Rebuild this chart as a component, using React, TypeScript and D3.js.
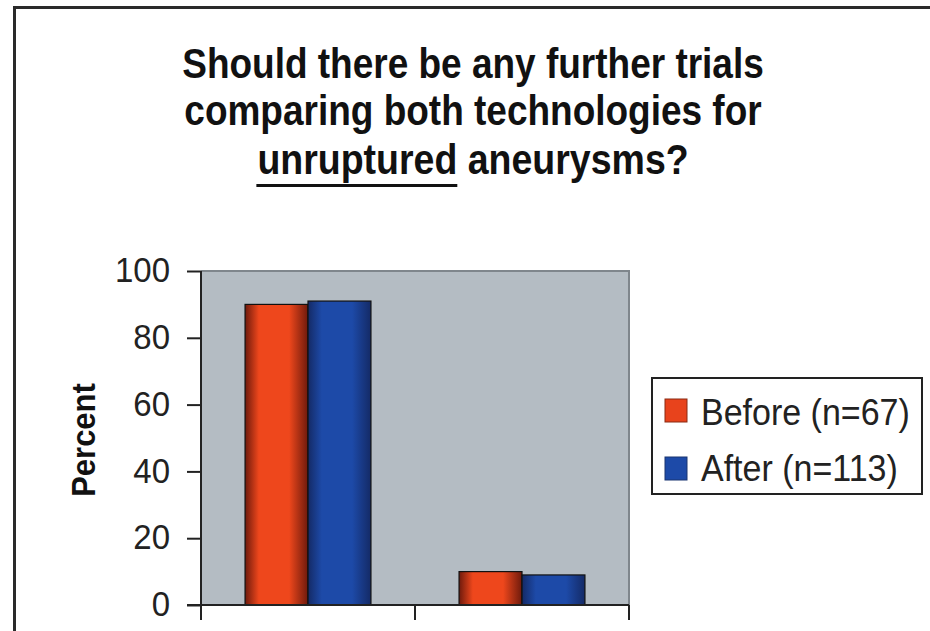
import React, { useEffect, useRef } from "react";
import * as d3 from "d3";

const categories = ["Yes", "No"];
const seriesNames = ["Before (n=67)", "After (n=113)"];
const beforeValues = [90, 10];
const afterValues = [91, 9];
const yTicks = [0, 20, 40, 60, 80, 100];
const titleLines = ["Should there be any further trials", "comparing both technologies for"];
const titleLine3Underlined = "unruptured";
const titleLine3Rest = " aneurysms?";
const yLabel = "Percent";

const W = 930;
const H = 631;

export default function App() {
  const ref = useRef<SVGSVGElement>(null);

  useEffect(() => {
    const svg = d3.select(ref.current);
    svg.selectAll("*").remove();

    const left = 201, right = 629, top = 271, bottom = 605;
    const x0 = d3.scaleBand<string>().domain(categories).range([left, right]).padding(0);
    const x1 = d3.scaleBand<string>().domain(["before", "after"]).range([0, x0.bandwidth()]).paddingInner(0).paddingOuter(0.7);
    const y = d3.scaleLinear().domain([0, 100]).range([bottom, top]);

    const defs = svg.append("defs");
    const mkGrad = (id: string, edge: string, mid: string) => {
      const g = defs.append("linearGradient").attr("id", id).attr("x1", "0").attr("x2", "1").attr("y1", "0").attr("y2", "0");
      g.append("stop").attr("offset", "0%").attr("stop-color", edge);
      g.append("stop").attr("offset", "22%").attr("stop-color", mid);
      g.append("stop").attr("offset", "70%").attr("stop-color", mid);
      g.append("stop").attr("offset", "100%").attr("stop-color", edge);
    };
    mkGrad("gRed", "#6e1a0c", "#ee471c");
    mkGrad("gBlue", "#142a66", "#1d4aa8");

    // outer frame
    svg.append("line").attr("x1", 14.5).attr("x2", 14.5).attr("y1", 6).attr("y2", H).attr("stroke", "#2a2a2a").attr("stroke-width", 3);
    svg.append("line").attr("x1", 13).attr("x2", W).attr("y1", 7.5).attr("y2", 7.5).attr("stroke", "#2a2a2a").attr("stroke-width", 3);

    // title
    const font = "Liberation Sans, Arial, Helvetica, sans-serif";
    const tcx = 473;
    const vs = 1.14;
    titleLines.forEach((t, i) => {
      svg.append("text").attr("transform", `translate(${tcx},${78 + i * 47}) scale(1,${vs})`).attr("text-anchor", "middle")
        .attr("font-family", font).attr("font-weight", "bold").attr("font-size", 37).attr("fill", "#111").text(t);
    });
    const t3 = svg.append("text").attr("transform", `translate(${tcx},174) scale(1,${vs})`).attr("text-anchor", "middle")
      .attr("font-family", font).attr("font-weight", "bold").attr("font-size", 37.5).attr("fill", "#111");
    const u = t3.append("tspan").text(titleLine3Underlined);
    t3.append("tspan").text(titleLine3Rest);
    const textNode = t3.node() as SVGTextElement;
    const total = textNode.getComputedTextLength();
    const uLen = (u.node() as SVGTSpanElement).getComputedTextLength();
    const startX = tcx - total / 2;
    svg.append("line").attr("x1", startX - 1).attr("x2", startX + uLen).attr("y1", 185.5).attr("y2", 185.5)
      .attr("stroke", "#111").attr("stroke-width", 3);

    // plot background
    svg.append("rect").attr("x", left).attr("y", top).attr("width", right - left).attr("height", bottom - top).attr("fill", "#b4bcc3");
    svg.append("path").attr("d", `M${left},${top}H${right}V${bottom}`).attr("fill", "none").attr("stroke", "#7f868c").attr("stroke-width", 2);

    // bars
    const groups = svg.append("g").selectAll("g").data(categories).join("g")
      .attr("transform", (d) => `translate(${x0(d)},0)`);
    groups.each(function (_c, i) {
      const g = d3.select(this);
      const data = [
        { key: "before", v: beforeValues[i], fill: "url(#gRed)" },
        { key: "after", v: afterValues[i], fill: "url(#gBlue)" },
      ];
      g.selectAll("rect").data(data).join("rect")
        .attr("x", (d) => x1(d.key)!)
        .attr("y", (d) => y(d.v))
        .attr("width", x1.bandwidth())
        .attr("height", (d) => y(0) - y(d.v))
        .attr("fill", (d) => d.fill)
        .attr("stroke", "#111")
        .attr("stroke-width", 1.2);
    });

    // y axis
    const yAxis = svg.append("g").attr("transform", `translate(${left},0)`)
      .call(d3.axisLeft(y).tickValues(yTicks).tickSize(14).tickPadding(17).tickFormat(d3.format("d")));
    yAxis.select(".domain").remove();
    yAxis.selectAll(".tick line").attr("stroke", "#222").attr("stroke-width", 2);
    yAxis.selectAll(".tick text").attr("font-family", font).attr("font-size", 33).attr("fill", "#222")
      .attr("transform", "scale(1,1.08)").attr("dy", "0.3em");
    svg.append("line").attr("x1", left).attr("x2", left).attr("y1", top).attr("y2", bottom + 15).attr("stroke", "#222").attr("stroke-width", 2);

    // x axis
    svg.append("line").attr("x1", left - 14).attr("x2", right).attr("y1", bottom).attr("y2", bottom).attr("stroke", "#222").attr("stroke-width", 2);
    const bounds = [...categories.map((c) => x0(c)!), right];
    svg.append("g").selectAll("line").data(bounds).join("line")
      .attr("x1", (d) => d).attr("x2", (d) => d).attr("y1", bottom).attr("y2", bottom + 15)
      .attr("stroke", "#222").attr("stroke-width", 2);

    // y label
    svg.append("text").attr("transform", `translate(83,440) rotate(-90) scale(1,1.1)`).attr("text-anchor", "middle").attr("dy", "0.35em")
      .attr("font-family", font).attr("font-weight", "bold").attr("font-size", 31).attr("fill", "#111").text(yLabel);

    // legend
    const lg = svg.append("g");
    lg.append("rect").attr("x", 652).attr("y", 378).attr("width", 270).attr("height", 116)
      .attr("fill", "#fff").attr("stroke", "#222").attr("stroke-width", 2);
    const swatch = ["#e8431c", "#1d4aa8"];
    seriesNames.forEach((s, i) => {
      lg.append("rect").attr("x", 665).attr("y", 399 + i * 58).attr("width", 22).attr("height", 23)
        .attr("fill", swatch[i]).attr("stroke", i === 0 ? "#8a2a12" : "#1a3470").attr("stroke-width", 1);
      lg.append("text").attr("transform", `translate(701,${425 + i * 56}) scale(1,1.1)`).attr("font-family", font).attr("font-size", 34)
        .attr("fill", "#222").text(s);
    });
  }, []);

  return (
    <svg ref={ref} width={W} height={H} style={{ position: "absolute", left: 0, top: 0, background: "#fff" }} />
  );
}
